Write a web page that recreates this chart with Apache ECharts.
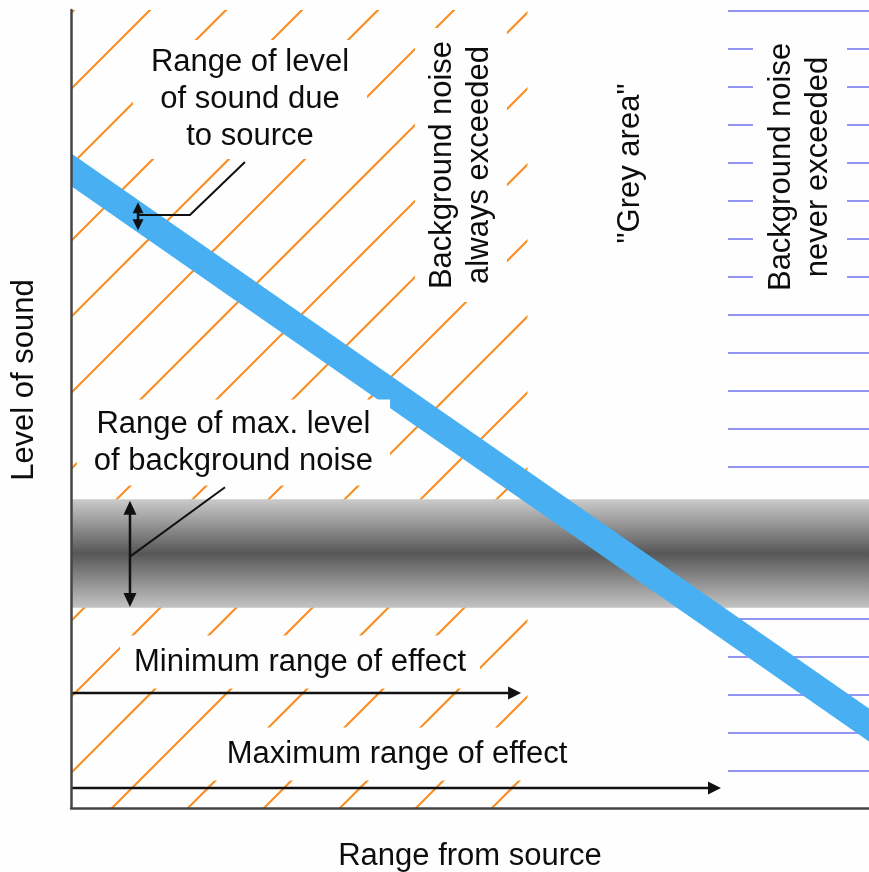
<!DOCTYPE html>
<html><head><meta charset="utf-8">
<script src="https://cdn.jsdelivr.net/npm/echarts@6/dist/echarts.min.js"></script>
<style>html,body{margin:0;padding:0;background:#fdfefd}#c{width:869px;height:872px}</style>
</head><body><div id="c"></div>
<script>
// ---- data (range from source 0..100, level of sound 0..100) ----
const sourceLevelLine = [[-3, 82.09], [103, 8.31]];
const bgNoiseBand = [25.1, 38.7];
const alwaysExceededRange = [0, 57.2];
const neverExceededRange = [82.33, 100];
const levelExtent = [0, 100];
const minRangeArrow = [0, 14.41, 56.4, 14.41, 1];
const maxRangeArrow = [0, 2.5, 81.45, 2.5, 1];
const bgRangeArrow = [7.39, 38.5, 7.39, 25.2, 2];
const srcRangeArrow = [8.4, 75.9, 8.4, 72.4, 2];
const bgLeader = [[7.39, 31.5], [19.3, 40.2]];
const srcLeader = [[8.4, 74.3], [14.9, 74.3], [21.8, 80.95]];
const labels = [
  'Range of level\nof sound due\nto source',
  'Background noise\nalways exceeded',
  '"Grey area"',
  'Background noise\nnever exceeded',
  'Range of max. level\nof background noise',
  'Minimum range of effect',
  'Maximum range of effect',
  'Level of sound',
  'Range from source'
];

// ---- layout / style ----
const labelLayout = [
  {at: [22.43, 88.78], rot: 0, pad: [4, 18, 4, 18], bg: true},
  {at: [48.87, 80.58], rot: 90, pad: [9, 13, 9, 13], bg: true},
  {at: [70.05, 80.76], rot: 90, pad: 0, bg: false},
  {at: [91.35, 80.33], rot: 90, pad: [10, 13, 10, 13], bg: true},
  {at: [20.36, 45.80], rot: 0, pad: [6, 17, 6, 17], bg: true},
  {at: [28.70, 18.30], rot: 0, pad: [8, 14, 8, 14], bg: true},
  {at: [40.85, 6.77], rot: 0, pad: [8, 14, 8, 14], bg: true},
  {at: [-5.89, 53.63], rot: 90, pad: 0, bg: false},
  {at: [50.0, -6.02], rot: 0, pad: 0, bg: false}
];
const BG = '#fdfefd';
const FONT = '31px "Liberation Sans", Arial, sans-serif';
const arrowHeads = [[13, 6.5], [13, 6.5], [14, 6.5], [11, 5.5]];

function hatchPattern() {
  const c = document.createElement('canvas');
  c.width = 76; c.height = 76;
  const g = c.getContext('2d');
  g.strokeStyle = '#fa8c1e'; g.lineWidth = 2;
  for (const k of [-68, 8, 84, 160]) {
    g.beginPath(); g.moveTo(k + 10, -10); g.lineTo(k - 86, 86); g.stroke();
  }
  return c;
}
function hlinePattern() {
  const c = document.createElement('canvas');
  c.width = 8; c.height = 38;
  const g = c.getContext('2d');
  g.fillStyle = '#9494f2'; g.fillRect(0, 10, 8, 2);
  return c;
}

function regionSeries(rect, fill, z) {
  return {
    type: 'custom', z, silent: true, clip: true, data: [rect],
    renderItem: (params, api) => {
      const p0 = api.coord([api.value(0), api.value(1)]);
      const p1 = api.coord([api.value(2), api.value(3)]);
      return {type: 'rect', shape: {x: Math.min(p0[0], p1[0]), y: Math.min(p0[1], p1[1]),
        width: Math.abs(p1[0] - p0[0]), height: Math.abs(p1[1] - p0[1])}, style: {fill}};
    }
  };
}

const chart = echarts.init(document.getElementById('c'));
const grad = new echarts.graphic.LinearGradient(0, 0, 0, 1, [
  {offset: 0, color: '#cbcbcb'}, {offset: 0.5, color: '#575757'}, {offset: 1, color: '#c3c3c3'}]);

const axisCommon = {type: 'value', min: 0, max: 100, z: 10,
  axisLine: {show: true, onZero: false, lineStyle: {color: '#454545', width: 2.5}},
  axisTick: {show: false}, axisLabel: {show: false}, splitLine: {show: false}};

chart.setOption({
  backgroundColor: BG,
  animation: false,
  grid: {left: 71, right: 0, top: 10, bottom: 64},
  xAxis: Object.assign({}, axisCommon),
  yAxis: Object.assign({}, axisCommon),
  series: [
    regionSeries([alwaysExceededRange[0], levelExtent[0], alwaysExceededRange[1], levelExtent[1]],
      {image: hatchPattern(), repeat: 'repeat'}, 1),
    regionSeries([neverExceededRange[0], levelExtent[0], neverExceededRange[1], levelExtent[1]],
      {image: hlinePattern(), repeat: 'repeat'}, 1),
    regionSeries([0, bgNoiseBand[0], 100, bgNoiseBand[1]], grad, 2),
    {type: 'custom', z: 3, silent: true, clip: true, data: [sourceLevelLine.flat()],
      renderItem: (params, api) => {
        const pts = [];
        for (let i = 0; i < sourceLevelLine.length; i++) pts.push(api.coord([api.value(2 * i), api.value(2 * i + 1)]));
        return {type: 'polyline', shape: {points: pts}, style: {stroke: '#48b0f2', lineWidth: 27, fill: null}};
      }},
    {type: 'line', z: 4, silent: true, data: bgLeader, symbol: 'none',
      lineStyle: {color: '#111', width: 2}},
    {type: 'line', z: 4, silent: true, data: srcLeader, symbol: 'none',
      lineStyle: {color: '#111', width: 2}},
    {type: 'custom', z: 4, silent: true, clip: false,
      data: [minRangeArrow, maxRangeArrow, bgRangeArrow, srcRangeArrow],
      renderItem: (params, api) => {
        const a = api.coord([api.value(0), api.value(1)]);
        const b = api.coord([api.value(2), api.value(3)]);
        const both = api.value(4) === 2;
        const [L, W] = arrowHeads[params.dataIndex];
        const dx = b[0] - a[0], dy = b[1] - a[1], len = Math.hypot(dx, dy);
        const ux = dx / len, uy = dy / len, nx = -uy, ny = ux;
        const head = (t, s) => ({type: 'polygon', shape: {points: [
          t, [t[0] - s * ux * L + nx * W, t[1] - s * uy * L + ny * W],
          [t[0] - s * ux * L - nx * W, t[1] - s * uy * L - ny * W]]}, style: {fill: '#111'}});
        const s0 = both ? [a[0] + ux * L * 0.8, a[1] + uy * L * 0.8] : a;
        const s1 = [b[0] - ux * L * 0.8, b[1] - uy * L * 0.8];
        const children = [{type: 'line', shape: {x1: s0[0], y1: s0[1], x2: s1[0], y2: s1[1]},
          style: {stroke: '#111', lineWidth: 2.5}}, head(b, 1)];
        if (both) children.push(head(a, -1));
        return {type: 'group', children};
      }}
  ]
});

const elements = labels.map((t, i) => {
  const l = labelLayout[i];
  const p = chart.convertToPixel({gridIndex: 0}, l.at);
  const style = {text: t, font: FONT, fill: '#0d0d0d', align: 'center', verticalAlign: 'middle',
    textAlign: 'center', textVerticalAlign: 'middle', lineHeight: 37};
  if (l.bg) { style.backgroundColor = BG; style.padding = l.pad; }
  return {type: 'text', x: p[0], y: p[1], rotation: l.rot * Math.PI / 180, z: 100, silent: true, style};
});
chart.setOption({graphic: {elements}});
</script>
</body></html>
